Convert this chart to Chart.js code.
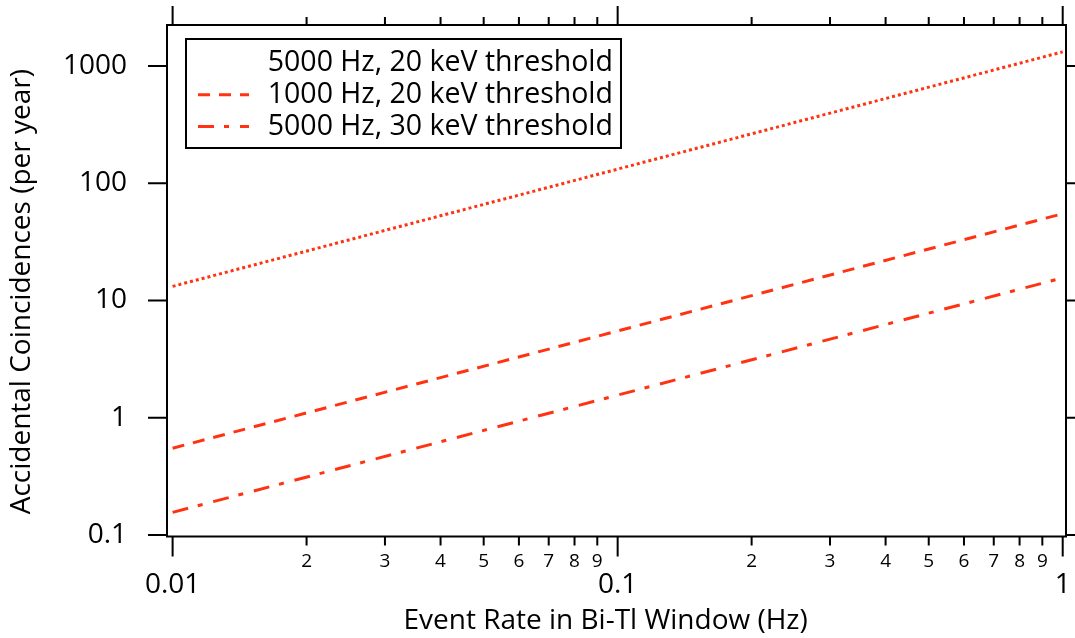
<!DOCTYPE html>
<html>
<head>
<meta charset="utf-8">
<script src="https://cdn.jsdelivr.net/npm/chart.js@4"></script>
<style>
  body { margin: 0; background: #fff; }
  canvas { display: block; }
</style>
</head>
<body>
<canvas id="mycanvas" width="1075" height="638"></canvas>
<script>
// event rate in the Bi-Tl window (Hz)
var rates = [0.01, 0.1, 1];
// accidental coincidences per year
var hz5000kev20 = [13.2, 132, 1320];
var hz1000kev20 = [0.55, 5.5, 55];
var hz5000kev30 = [0.156, 1.56, 15.6];

var seriesLabels = ['5000 Hz, 20 keV threshold', '1000 Hz, 20 keV threshold', '5000 Hz, 30 keV threshold'];

var xTickValues = [0.01, 0.02, 0.03, 0.04, 0.05, 0.06, 0.07, 0.08, 0.09,
                   0.1, 0.2, 0.3, 0.4, 0.5, 0.6, 0.7, 0.8, 0.9, 1];
var xTickLabels = ['0.01', '2', '3', '4', '5', '6', '7', '8', '9',
                   '0.1', '2', '3', '4', '5', '6', '7', '8', '9', '1'];
var xMajorTicks = [0.01, 0.1, 1];
var yTickValues = [0.1, 1, 10, 100, 1000];
var yTickLabels = ['0.1', '1', '10', '100', '1000'];

var red = '#ff3311';
var fontFamily = '"Open Sans", "Noto Sans", sans-serif';

function points(values) {
	var out = [];
	for (var i in rates) {
		out.push({x: rates[i], y: values[i]});
	}
	return out;
}

// frame with ticks on all four sides, plus the boxed legend
var framePlugin = {
	id: 'frame',
	afterDraw: function(chart) {
		var ctx = chart.ctx;
		var a = chart.chartArea;
		var x = chart.scales.x;
		var y = chart.scales.y;
		ctx.save();
		ctx.strokeStyle = '#000';
		ctx.lineWidth = 2;
		ctx.strokeRect(a.left, a.top, a.right - a.left, a.bottom - a.top);
		ctx.beginPath();
		xTickValues.forEach(function(v) {
			var px = x.getPixelForValue(v);
			var len = xMajorTicks.indexOf(v) >= 0 ? 20 : 9;
			ctx.moveTo(px, a.bottom);
			ctx.lineTo(px, a.bottom + len);
			ctx.moveTo(px, a.top);
			ctx.lineTo(px, a.top - len + 1);
		});
		yTickValues.forEach(function(v) {
			var py = y.getPixelForValue(v);
			ctx.moveTo(a.left, py);
			ctx.lineTo(a.left - 19, py);
			ctx.moveTo(a.right, py);
			ctx.lineTo(a.right + 19, py);
		});
		ctx.stroke();

		// legend
		var lx = a.left + 19, ly = a.top + 14, lw = 435, lh = 109;
		ctx.fillStyle = '#fff';
		ctx.fillRect(lx, ly, lw, lh);
		ctx.strokeRect(lx, ly, lw, lh);
		ctx.font = '28.5px ' + fontFamily;
		ctx.textAlign = 'right';
		ctx.textBaseline = 'middle';
		chart.data.datasets.forEach(function(ds, i) {
			var ty = ly + 24 + i * 31.7;
			ctx.fillStyle = '#000';
			ctx.fillText(ds.label, lx + lw - 8, ty);
			// the dotted sample does not show in the original legend
			if (i > 0) {
				ctx.strokeStyle = ds.borderColor;
				ctx.lineWidth = ds.borderWidth;
				ctx.setLineDash(ds.borderDash);
				ctx.beginPath();
				ctx.moveTo(lx + 12, ty);
				ctx.lineTo(lx + 63, ty);
				ctx.stroke();
				ctx.setLineDash([]);
			}
		});
		ctx.restore();
	}
};

var chartdata = {
	datasets: [
		{
			label: seriesLabels[0],
			data: points(hz5000kev20),
			borderColor: red,
			borderWidth: 3,
			borderDash: [3, 3],
			pointRadius: 0
		},
		{
			label: seriesLabels[1],
			data: points(hz1000kev20),
			borderColor: red,
			borderWidth: 3,
			borderDash: [12, 9],
			pointRadius: 0
		},
		{
			label: seriesLabels[2],
			data: points(hz5000kev30),
			borderColor: red,
			borderWidth: 3,
			borderDash: [16, 10, 5, 11],
			pointRadius: 0
		}
	]
};

var ctx = document.getElementById('mycanvas');

var chart = new Chart(ctx, {
	type: 'line',
	data: chartdata,
	plugins: [framePlugin],
	options: {
		responsive: false,
		animation: false,
		layout: {padding: {top: 25, right: 9, left: 0, bottom: 0}},
		plugins: {
			legend: {display: false},
			tooltip: {enabled: false}
		},
		scales: {
			x: {
				type: 'logarithmic',
				position: 'bottom',
				min: 0.009714,
				max: 1.0172,
				afterBuildTicks: function(s) {
					s.ticks = xTickValues.map(function(v) { return {value: v}; });
				},
				afterFit: function(s) {
					s.height = 101.5;
					s.paddingLeft = 0;
					s.paddingRight = 0;
				},
				grid: {display: false, drawTicks: false},
				border: {display: false},
				ticks: {
					autoSkip: false,
					maxRotation: 0,
					padding: 14,
					color: '#000',
					font: function(c) {
						if (c.tick && xMajorTicks.indexOf(c.tick.value) >= 0) {
							return {family: fontFamily, size: 28, lineHeight: 2.5};
						}
						return {family: fontFamily, size: 19, lineHeight: 1.2};
					},
					callback: function(v, i) { return xTickLabels[i]; }
				},
				title: {
					display: true,
					text: 'Event Rate in Bi-Tl Window (Hz)\u00a0\u00a0\u00a0',
					color: '#000',
					font: {family: fontFamily, size: 28, lineHeight: 1.2},
					padding: {top: 0, bottom: 0}
				}
			},
			y: {
				type: 'logarithmic',
				position: 'left',
				min: 0.0971,
				max: 2237,
				afterBuildTicks: function(s) {
					s.ticks = yTickValues.map(function(v) { return {value: v}; });
				},
				afterFit: function(s) {
					s.width = 167;
					s.paddingTop = 0;
					s.paddingBottom = 0;
				},
				grid: {display: false, drawTicks: false},
				border: {display: false},
				ticks: {
					autoSkip: false,
					padding: 40,
					color: '#000',
					font: {family: fontFamily, size: 28},
					callback: function(v, i) { return yTickLabels[i]; }
				},
				title: {
					display: true,
					text: 'Accidental Coincidences (per year)\u00a0\u00a0\u00a0',
					color: '#000',
					font: {family: fontFamily, size: 28, lineHeight: 1.2},
					padding: {top: 5, bottom: 0}
				}
			}
		}
	}
});
</script>
</body>
</html>
